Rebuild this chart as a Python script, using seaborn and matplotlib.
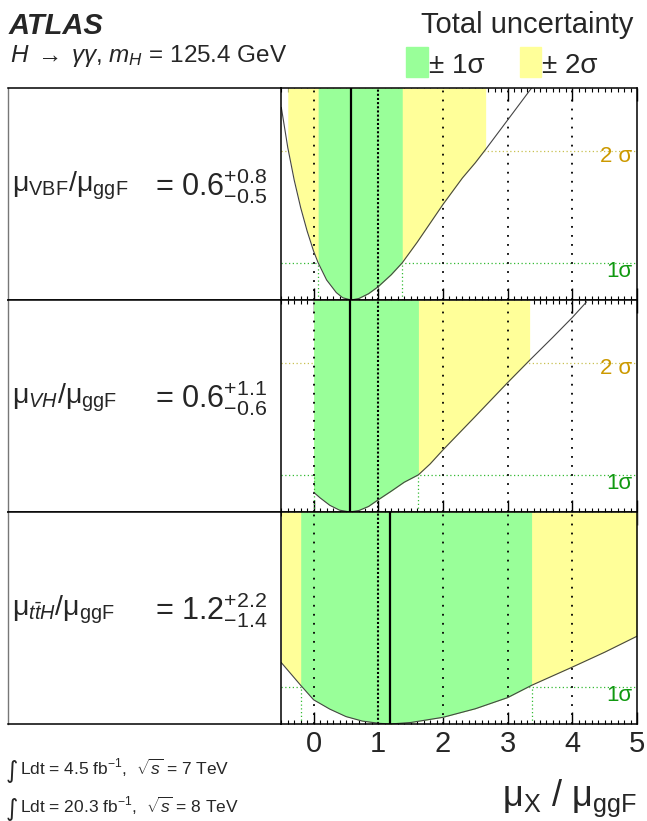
import numpy as np
import pandas as pd
import matplotlib
matplotlib.use("Agg")
import matplotlib.pyplot as plt
import seaborn as sns
from matplotlib.ticker import MultipleLocator

# ---------------- data ----------------
vbf_mu = [-0.5, -0.4, -0.3, -0.2, -0.1, 0.0, 0.07, 0.2, 0.35, 0.45, 0.58, 0.7,
          0.85, 1.0, 1.2, 1.37, 1.6, 1.8, 2.0, 2.3, 2.5, 2.66, 3.0, 3.37]
vbf_q = [5.18, 4.1, 3.22, 2.48, 1.85, 1.31, 1.0, 0.54, 0.2, 0.06, 0.0, 0.04,
         0.17, 0.36, 0.68, 1.0, 1.55, 2.06, 2.57, 3.28, 3.69, 4.05, 4.84, 5.7]
vh_mu = [0.0, 0.1, 0.25, 0.4, 0.56, 0.7, 0.85, 1.0, 1.2, 1.4, 1.62, 1.8, 2.0,
         2.5, 3.0, 3.34, 3.7, 4.0, 4.22]
vh_q = [0.53, 0.38, 0.18, 0.05, 0.0, 0.04, 0.15, 0.33, 0.56, 0.8, 1.0, 1.29,
        1.67, 2.57, 3.48, 4.08, 4.7, 5.23, 5.65]
tth_mu = [-0.5, -0.2, 0.0, 0.25, 0.5, 0.75, 1.0, 1.18, 1.5, 2.0, 2.5, 3.0,
          3.37, 4.0, 4.5, 5.0]
tth_q = [1.65, 1.04, 0.65, 0.4, 0.2, 0.08, 0.02, 0.0, 0.04, 0.18, 0.41, 0.71,
         1.04, 1.53, 1.93, 2.36]

best_fit = [0.58, 0.56, 1.18]
one_sigma = [(0.07, 1.37), (0.0, 1.62), (-0.2, 3.37)]
two_sigma = [(-0.4, 2.66), (0.0, 3.34), (-0.5, 5.0)]
show_2sigma = [True, True, False]
labels_left = [r"$\mathrm{\mu}_{\mathrm{VBF}}/\mathrm{\mu}_{\mathrm{ggF}}$",
               r"$\mathrm{\mu}_{VH}/\mathrm{\mu}_{\mathrm{ggF}}$",
               r"$\mathrm{\mu}_{t\bar{t}H}/\mathrm{\mu}_{\mathrm{ggF}}$"]
labels_val = [r"= $0.6^{+0.8}_{-0.5}$",
              r"= $0.6^{+1.1}_{-0.6}$",
              r"= $1.2^{+2.2}_{-1.4}$"]
x_ticks = [0, 1, 2, 3, 4, 5]
x_ticklabels = ["0", "1", "2", "3", "4", "5"]

curves = [(vbf_mu, vbf_q), (vh_mu, vh_q), (tth_mu, tth_q)]

# ---------------- style ----------------
sns.set_theme(style="white")
plt.rcParams["font.family"] = ["Liberation Sans", "DejaVu Sans"]
plt.rcParams["mathtext.fontset"] = "custom"
plt.rcParams["mathtext.rm"] = "Liberation Sans"
plt.rcParams["mathtext.it"] = "Liberation Sans:italic"
plt.rcParams["mathtext.bf"] = "Liberation Sans:bold"
plt.rcParams["mathtext.sf"] = "Liberation Sans"

GREEN = "#99ff99"
YELLOW = "#ffff99"
G_LINE = "#33bb33"
Y_LINE = "#c8c050"
G_TXT = "#119911"
Y_TXT = "#cc9900"

W, H = 647, 821
fig = plt.figure(figsize=(W / 100, H / 100), dpi=100)


def fx(x):
    return x / W


def fy(y):
    return 1 - y / H


XL, XR = 281.3, 637.0
XBOX = 8.0
panels = [(88, 300), (300, 512), (512, 724)]
YMAX = 5.7

for i, (top, bot) in enumerate(panels):
    # left text box
    axl = fig.add_axes([fx(XBOX), fy(bot), fx(XL) - fx(XBOX), (bot - top) / H])
    axl.set_xticks([])
    axl.set_yticks([])
    axl.set_facecolor("white")
    for s in ["top", "bottom"]:
        axl.spines[s].set_color("black")
        axl.spines[s].set_linewidth(1.1)
    axl.spines["left"].set_color("#777777")
    axl.spines["left"].set_linewidth(1.0)
    axl.spines["right"].set_visible(False)

    # plot axes
    ax = fig.add_axes([fx(XL), fy(bot), fx(XR) - fx(XL), (bot - top) / H])
    mu = np.array(curves[i][0])
    q = np.array(curves[i][1])
    lo1, hi1 = one_sigma[i]
    lo2, hi2 = two_sigma[i]

    # horizontal sigma lines (under the fills)
    ax.axhline(1.0, color=G_LINE, lw=0.9, ls=(0, (1, 2)), zorder=1)
    if show_2sigma[i]:
        ax.axhline(4.0, color=Y_LINE, lw=0.9, ls=(0, (1, 2)), zorder=1)

    eps = 1e-9
    m2 = (mu >= lo2 - eps) & (mu <= hi2 + eps)
    m1 = (mu >= lo1 - eps) & (mu <= hi1 + eps)
    ax.fill_between(mu, q, YMAX, where=m2, color=YELLOW, lw=0, zorder=2)
    ax.fill_between(mu, q, YMAX, where=m1, color=GREEN, lw=0, zorder=2.1)

    # green vertical dotted lines at 1 sigma edges
    for e in (lo1, hi1):
        if -0.5 < e < 5.0:
            ax.plot([e, e], [0, 1], color=G_LINE, lw=0.9, ls=(0, (1, 2)), zorder=2.5)

    # grid lines
    for g in [0, 2, 3, 4]:
        ax.axvline(g, color="black", lw=1.3, ls=(0, (1, 4)), zorder=3)
    ax.axvline(1, color="black", lw=1.5, ls=(0, (1, 1)), zorder=3)

    # likelihood curve
    sns.lineplot(x=mu, y=q, ax=ax, color="#444444", lw=0.8, zorder=4,
                 estimator=None, sort=False)
    # best fit
    ax.axvline(best_fit[i], color="black", lw=1.6, zorder=5)

    ax.set_xlim(-0.5, 5.0)
    ax.set_ylim(0, YMAX)
    ax.set_xlabel("")
    ax.set_ylabel("")
    ax.set_xticks(x_ticks)
    ax.xaxis.set_minor_locator(MultipleLocator(0.1))
    ax.set_yticks([])
    ax.tick_params(axis="x", which="major", direction="in", length=9, width=1.0,
                   top=True, bottom=True, color="black")
    ax.tick_params(axis="x", which="minor", direction="in", length=2.8, width=0.8,
                   top=True, bottom=True, color="black")
    for s in ax.spines.values():
        s.set_color("black")
        s.set_linewidth(1.1)
        s.set_zorder(6)
    if i == 2:
        ax.set_xticklabels(x_ticklabels, fontsize=21)
        ax.tick_params(axis="x", which="major", pad=4)
    else:
        ax.tick_params(axis="x", labelbottom=False)

    # sigma labels
    ax.text(4.93, 0.76, "1σ", color=G_TXT, fontsize=16, ha="right",
            va="center", zorder=7)
    if show_2sigma[i]:
        ax.text(4.93, 3.85, "2 σ", color=Y_TXT, fontsize=16, ha="right",
                va="center", zorder=7)

    # left-box labels
    yc = (top + bot) / 2 - 8
    fig.text(fx(12), fy(yc), labels_left[i], fontsize=20.5, ha="left", va="center")
    fig.text(fx(155), fy(yc), labels_val[i], fontsize=22, ha="left", va="center")

# header texts
fig.text(fx(9), fy(34), "ATLAS", fontsize=21, fontweight="bold", fontstyle="italic",
         ha="left", va="baseline")
fig.text(fx(10), fy(62),
         r"$H\;\rightarrow\;\gamma\gamma$, $m_{H}$ = 125.4 GeV",
         fontsize=17.5, ha="left", va="baseline")
fig.text(fx(633), fy(33), "Total uncertainty", fontsize=21, ha="right", va="baseline")

# legend patches
fig.patches.append(plt.Rectangle((fx(406), fy(77)), fx(428) - fx(406), 30 / H,
                                 transform=fig.transFigure, color=GREEN, zorder=1))
fig.patches.append(plt.Rectangle((fx(520), fy(77)), fx(541) - fx(520), 30 / H,
                                 transform=fig.transFigure, color=YELLOW, zorder=1))
fig.text(fx(429), fy(73), "± 1σ", fontsize=20, ha="left", va="baseline")
fig.text(fx(542), fy(73), "± 2σ", fontsize=20, ha="left", va="baseline")

# luminosity texts
for yb, txt in [(775, r"Ldt = 4.5 fb$^{-1}$,  $\sqrt{s}$ = 7 TeV"),
                (813, r"Ldt = 20.3 fb$^{-1}$,  $\sqrt{s}$ = 8 TeV")]:
    fig.text(fx(6), fy(yb + 3), "∫", fontsize=17, ha="left", va="baseline",
             family=["DejaVu Sans"])
    fig.text(fx(20), fy(yb), txt, fontsize=12.5, ha="left", va="baseline")

# x axis title
fig.text(fx(637), fy(806),
         r"$\mathrm{\mu}_{\mathrm{X}}$ / $\mathrm{\mu}_{\mathrm{ggF}}$", fontsize=26,
         ha="right", va="baseline")

fig.savefig("out.png", dpi=100)
